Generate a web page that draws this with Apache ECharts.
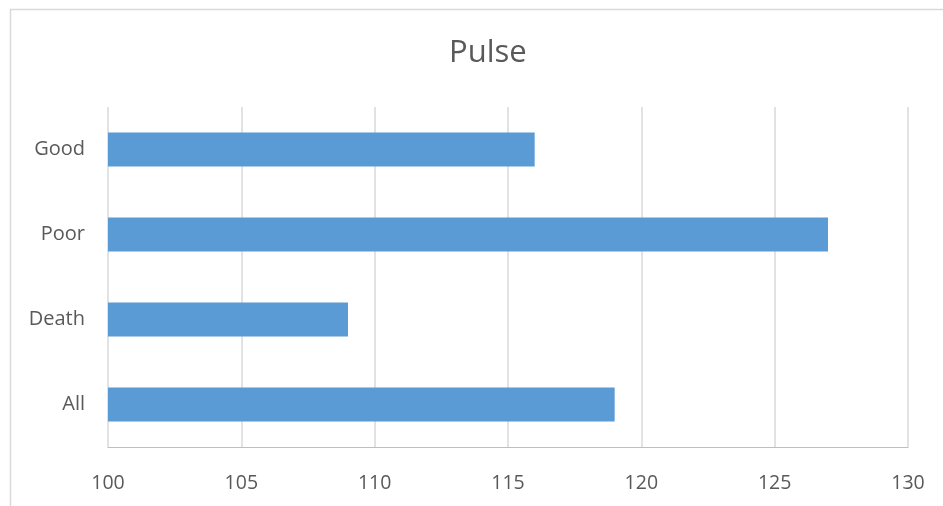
<!DOCTYPE html>
<html>
<head>
<meta charset="utf-8">
<script src="https://cdn.jsdelivr.net/npm/echarts@6/dist/echarts.min.js"></script>
<style>
  html, body { margin: 0; padding: 0; background: #fff; }
  #chart { width: 943px; height: 506px; }
</style>
</head>
<body>
<div id="chart"></div>
<script>
// Mean pulse by outcome group
const categories = ['All', 'Death', 'Poor', 'Good'];
const pulseValues = [119, 109, 127, 116];
const xTicks = { min: 100, max: 130, interval: 5 };

const chart = echarts.init(document.getElementById('chart'), null, { renderer: 'canvas' });
const font = '"Open Sans", "Liberation Sans", sans-serif';

chart.setOption({
  animation: false,
  backgroundColor: '#ffffff',
  graphic: [{
    type: 'rect',
    left: 8, top: 7,
    shape: { width: 1000, height: 1000 },
    style: { fill: 'none', stroke: '#d9d9d9', lineWidth: 1.5 },
    silent: true
  }],
  title: {
    text: 'Pulse',
    left: 444, top: 33,
    textStyle: { color: '#595959', fontSize: 31, fontWeight: 'normal', fontFamily: font }
  },
  grid: { left: 108, right: 35, top: 107, bottom: 59, containLabel: false },
  xAxis: {
    type: 'value',
    min: xTicks.min, max: xTicks.max, interval: xTicks.interval,
    axisLine: { show: true, lineStyle: { color: '#bfbfbf', width: 1 } },
    axisTick: { show: false },
    axisLabel: { color: '#595959', fontSize: 19.5, fontFamily: font, margin: 26 },
    splitLine: { show: true, lineStyle: { color: '#d9d9d9', width: 1.5 } }
  },
  yAxis: {
    type: 'category',
    data: categories,
    axisLine: { show: false },
    axisTick: { show: false },
    axisLabel: { color: '#595959', fontSize: 20, fontFamily: font, margin: 23, padding: [2, 0, 0, 0] }
  },
  series: [{
    type: 'bar',
    data: pulseValues,
    barWidth: '40%',
    itemStyle: { color: '#5b9bd5' }
  }]
});
</script>
</body>
</html>
